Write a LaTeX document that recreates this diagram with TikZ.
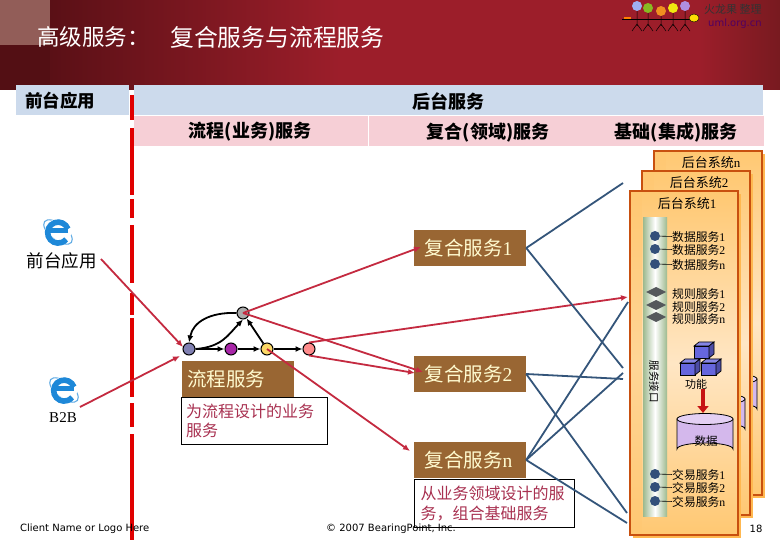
\documentclass[tikz,border=0pt]{standalone}
\usepackage{fontspec}
\setmainfont{Noto Sans CJK SC}
\newfontfamily\lat{Liberation Serif}
\newfontfamily\foot{DejaVu Sans}
\usetikzlibrary{arrows.meta}
\definecolor{hdA}{HTML}{5A1016}
\definecolor{hdB}{HTML}{9C1E2A}
\definecolor{hdC}{HTML}{781A20}
\definecolor{barblue}{HTML}{CCDAEC}
\definecolor{barpink}{HTML}{F6CFD6}
\definecolor{brownbox}{HTML}{996633}
\definecolor{paletext}{HTML}{FFFBD0}
\definecolor{notetext}{HTML}{A83050}
\definecolor{redline}{HTML}{C42A40}
\definecolor{blueline}{HTML}{34557A}
\definecolor{paneledge}{HTML}{C8500F}
\definecolor{panelA}{HTML}{FFC872}
\definecolor{panelB}{HTML}{FFE6C4}
\definecolor{panelshadow}{HTML}{FFB850}
\definecolor{bargreen}{HTML}{9DB98E}
\definecolor{dotblue}{HTML}{33507A}
\definecolor{diagray}{HTML}{55585C}
\definecolor{cubeblue}{HTML}{6666DD}
\definecolor{cylfill}{HTML}{D4B8EC}
\definecolor{cyltop}{HTML}{E4D0F4}
\definecolor{ieblue}{HTML}{1E88D8}
\tikzset{
  barhead/.style={font=\fontsize{18}{20}\selectfont\bfseries,text=black,inner sep=0pt},
  bluecell/.style={fill=barblue,inner sep=0pt},
  pinkcell/.style={fill=barpink,inner sep=0pt},
  brownnode/.style={fill=brownbox,text=paletext,minimum width=112pt,minimum height=36pt,inner sep=0pt,font=\fontsize{19.5}{22}\selectfont},
  notenode/.style={draw=black,line width=1pt,fill=white,text=notetext,inner sep=0pt,align=left,font=\fontsize{16}{19.5}\selectfont},
  proc/.style={circle,draw=black,line width=1pt,minimum size=12pt,inner sep=0pt},
  flowline/.style={-{Latex[length=7pt,width=6pt]},black,line width=1.8pt},
  redarrow/.style={-{Latex[length=7pt,width=6pt]},redline,line width=1.8pt},
  blueconn/.style={blueline,line width=1.8pt},
  syslabel/.style={font=\fontsize{13}{15}\selectfont,inner sep=0pt},
  svclabel/.style={font=\fontsize{11.8}{13}\selectfont,inner sep=0pt,anchor=west},
  svcdot/.style={circle,fill=dotblue,minimum size=10pt,inner sep=0pt},
  plain/.style={inner sep=0pt},
}
\newcommand{\La}[1]{{\lat #1}}
\newcommand{\cylshape}{%
  \fill[cylfill,draw=black,line width=.8pt] (677,419) -- (677,449) arc[start angle=180,end angle=360,x radius=28,y radius=6] -- (733,419) -- cycle;
  \fill[cyltop,draw=black,line width=.8pt] (705,419) ellipse[x radius=28,y radius=5.5];
}
\newcommand{\panelshape}{%
  \fill[panelshadow] (633,194) rectangle (741,538);
  \shade[top color=panelA,bottom color=panelA,middle color=panelB,shading angle=0] (630,191) rectangle (738,535);
  \fill[panelA,opacity=.55] (630,191) rectangle (642,535);
  \draw[paneledge,line width=2.4pt] (630,191) rectangle (738,535);
  \cylshape
}
\newcommand{\cubeshape}[2]{%
  \fill[cubeblue,draw=black,line width=.7pt] (#1,#2) rectangle ++(15,12);
  \fill[cubeblue!80!white,draw=black,line width=.7pt] (#1,#2) -- ++(5,-4) -- ++(15,0) -- ++(-5,4) -- cycle;
  \fill[cubeblue!75!black,draw=black,line width=.7pt] (#1+15,#2) -- ++(5,-4) -- ++(0,12) -- ++(-5,4) -- cycle;
}
\newcommand{\iconshape}[2]{%
  \begin{scope}[shift={(#1,#2)}]
    \draw[ieblue!70!white,line width=1.1pt,rotate=-38] (0,0) ellipse[x radius=17,y radius=8];
    \draw[white,line width=5.5pt] (0,0) circle[radius=10.5];
    \draw[ieblue,line width=5pt] (10,-1) -- (-9,-1);
    \draw[ieblue,line width=5.6pt] (10,-3) arc[start angle=-20,end angle=-320,radius=10.5];
  \end{scope}
}
\begin{document}
\begin{tikzpicture}[x=1pt,y=-1pt,every node/.append style={text=black}]
\useasboundingbox (0,0) rectangle (780,540);
\fill[white] (0,0) rectangle (780,540);
% header
\shade[left color=hdA,right color=hdB] (50,0) rectangle (340,90);
\fill[hdB] (339,0) rectangle (700,90);
\shade[left color=hdB,right color=hdC] (699,0) rectangle (780,90);
\fill[hdA!92!black] (0,45) rectangle (50,90);
\fill[hdA!70!white!88!brown] (0,0) rectangle (50,45);
\node[plain,anchor=west,text=white,font=\fontsize{22.5}{25}\selectfont] (t1) at (37,37) {高级服务：};
\node[plain,anchor=west,text=white,font=\fontsize{23.8}{26}\selectfont] (t2) at (170,37) {复合服务与流程服务};
% logo
\foreach \nm/\hx/\hy/\cc in {a/637/6/9FB0F0,b/648/8/88BB22,c/661/11/F09020,d/673/8/F0E810,e/685/6/B090E0}{
  \definecolor{headc}{HTML}{\cc}
  \draw[black,line width=.5pt] (\hx,\hy) -- (\hx,26) (\hx-5,31) -- (\hx,24) -- (\hx+5,31);
  \node[circle,fill=headc,minimum size=10pt,inner sep=0pt] (head\nm) at (\hx,\hy) {};
}
\draw[black,line width=.5pt] (622,19) -- (690,19);
\fill[orange] (624,17) rectangle (631,19);
\fill[yellow!80!orange,draw=black,line width=.4pt] (694,18) ellipse[x radius=5,y radius=4];
\node[plain,anchor=west,text=black!80,font=\fontsize{11}{12}\selectfont] (lg1) at (704,9) {火龙果\ 整理};
\node[plain,anchor=west,text=blue!40!purple!70!black,font=\fontsize{10}{12}\selectfont] (lg2) at (708,24) {\foot uml.org.cn};
% top bars
\node[bluecell,anchor=north west,minimum width=113pt,minimum height=30pt] (bFront) at (16,85) {};
\node[bluecell,anchor=north west,minimum width=629pt,minimum height=30pt] (bBack) at (134,85) {};
\node[pinkcell,anchor=north west,minimum width=234pt,minimum height=30pt] (pA) at (134,116) {};
\node[pinkcell,anchor=north west,minimum width=395pt,minimum height=30pt] (pB) at (369,116) {};
\node[barhead,font=\fontsize{17.5}{20}\selectfont\bfseries] (hFront) at (60,101) {前台应用};
\node[barhead] (hBack) at (448,101) {后台服务};
\node[barhead] (hA) at (250,132) {流程(业务)服务};
\node[barhead] (hB) at (488,133) {复合(领域)服务};
\node[barhead] (hC) at (676,132) {基础(集成)服务};
% vertical divider
\foreach \ya/\yb in {95/120,128/195,199/218,225/283,293/315,318/397,403/427,434/540}{
  \draw[red!88!black,line width=3.6pt] (132,\ya) -- (132,\yb);
}
% panels
\begin{scope}[shift={(24,-40)}]\panelshape\end{scope}
\begin{scope}[shift={(12,-20)}]\panelshape\end{scope}
\panelshape
\node[syslabel] (s3) at (711,163) {后台系统\La{n}};
\node[syslabel] (s2) at (699,183) {后台系统\La{2}};
\node[syslabel] (s1) at (687,204) {后台系统\La{1}};
% interface bar
\shade[left color=bargreen,right color=bargreen,middle color=white,shading angle=90] (643,218) rectangle (667,516);
\node[plain,rotate=-90,font=\fontsize{10.5}{12}\selectfont] (iface) at (654,382) {服务接口};
% services
\foreach \nm/\yy/\tx in {d1/236/数据服务\La{1},d2/249/数据服务\La{2},d3/264/数据服务\La{n},x1/474/交易服务\La{1},x2/487/交易服务\La{2},x3/501/交易服务\La{n}}{
  \node[svcdot] (dot\nm) at (655,\yy) {};
  \node[svclabel] (lab\nm) at (672,\yy+1.2) {\tx};
  \draw[black,line width=.6pt] (dot\nm) -- (lab\nm);
}
\foreach \nm/\yy/\tx in {r1/292/规则服务\La{1},r2/305/规则服务\La{2},r3/317/规则服务\La{n}}{
  \fill[diagray] (646,\yy) -- (656,\yy-5) -- (666,\yy) -- (656,\yy+5) -- cycle;
  \node[svclabel] (lab\nm) at (672,\yy+2.5) {\tx};
}
\cubeshape{694}{346}
\cubeshape{680}{363}
\cubeshape{701}{363}
\node[plain,font=\fontsize{11}{12}\selectfont] (func) at (696,384) {功能};
\coordinate (fnTail) at (703,389);
\coordinate (fnHead) at (703,413);
\draw[-{Triangle[length=7pt,width=11pt]},red!75!black!90!pink,line width=4pt] (fnTail) -- (fnHead);
\node[plain,font=\fontsize{11.5}{13}\selectfont] (dataL) at (706,441) {数据};
% composite boxes
\node[brownnode] (c1) at (470,248) {\hspace*{-3pt}复合服务\La{1}};
\node[brownnode] (c2) at (470,374) {\hspace*{-3pt}复合服务\La{2}};
\node[brownnode] (cn) at (470,460) {\hspace*{-3pt}复合服务\La{n}};
\node[brownnode,anchor=north west] (fl) at (182,361) {\hspace*{-24pt}流程服务};
\node[notenode,anchor=north west,minimum width=146pt,minimum height=47pt,text width=137pt,inner xsep=4.5pt] (nf) at (181,397) {为流程设计的业务\\服务};
\node[notenode,anchor=north west,minimum width=160pt,minimum height=48pt,text width=148pt,inner xsep=6pt] (nc) at (414,479) {从业务领域设计的服\\务，组合基础服务};
% left column
\iconshape{58}{232}
\iconshape{64}{390}
\node[plain,font=\fontsize{17.5}{20}\selectfont] (fe) at (62,261) {前台应用};
\node[plain,font=\fontsize{15}{17}\selectfont] (b2b) at (63,418) {\lat B2B};
% process
\node[proc,fill=blue!25!gray!80] (n1) at (189,349) {};
\node[proc,fill=violet!55!magenta!70!gray] (n2) at (231,349) {};
\node[proc,fill=yellow!45!pink] (n3) at (267,349) {};
\node[proc,fill=red!45!white] (n4) at (309,349) {};
\node[proc,fill=black!33] (nt) at (243,313) {};
\draw[flowline] (n1) -- (n2);
\draw[flowline] (n2) -- (n3);
\draw[flowline] (n3) -- (n4);
\draw[flowline] (n3) -- (nt);
\draw[flowline] (n1.east) .. controls (222,347) and (228,335) .. (nt.south);
\draw[flowline] (nt.west) .. controls (210,312) and (193,322) .. (n1.north);
% free ends
\coordinate (feOut) at (101,259);
\coordinate (b2bOut) at (80,407);
\coordinate (n1in) at (183,347);
\coordinate (n1inb) at (180,356);
\coordinate (c1in) at (421,247);
\coordinate (c2in) at (423,372);
\coordinate (c2inb) at (415,373);
\coordinate (cnin) at (410,451);
\coordinate (panR) at (628,297);
\coordinate (p1) at (623,183);
\coordinate (p2) at (623,368);
\coordinate (p3) at (623,379);
\coordinate (p4) at (627,513);
\coordinate (p5) at (628,302);
\coordinate (p6) at (623,373);
\coordinate (p7) at (627,523);
% red
\draw[redarrow] (feOut) -- (n1in);
\draw[redarrow] (b2bOut) -- (n1inb);
\draw[redarrow] (nt.center) -- (c1in);
\draw[redarrow] (nt.center) -- (c2in);
\draw[redarrow] (n4.north) -- (panR);
\draw[redarrow] (n4.south) -- (c2inb);
\draw[redarrow] (n3.center) -- (cnin);
% blue
\draw[blueconn] (c1.east) -- (p1);
\draw[blueconn] (c1.east) -- (p2);
\draw[blueconn] (c2.east) -- (p3);
\draw[blueconn] (c2.east) -- (p4);
\draw[blueconn] (cn.east) -- (p5);
\draw[blueconn] (cn.east) -- (p6);
\draw[blueconn] (cn.east) -- (p7);
% footer
\node[plain,anchor=west,font=\foot\fontsize{10}{11}\selectfont] (fA) at (20,529) {Client Name or Logo Here};
\node[plain,anchor=west,font=\foot\fontsize{10}{11}\selectfont] (fB) at (326,529) {© 2007 BearingPoint, Inc.};
\node[plain,font=\foot\fontsize{10}{12}\selectfont] (pg) at (756,529) {18};
\end{tikzpicture}
\end{document}
